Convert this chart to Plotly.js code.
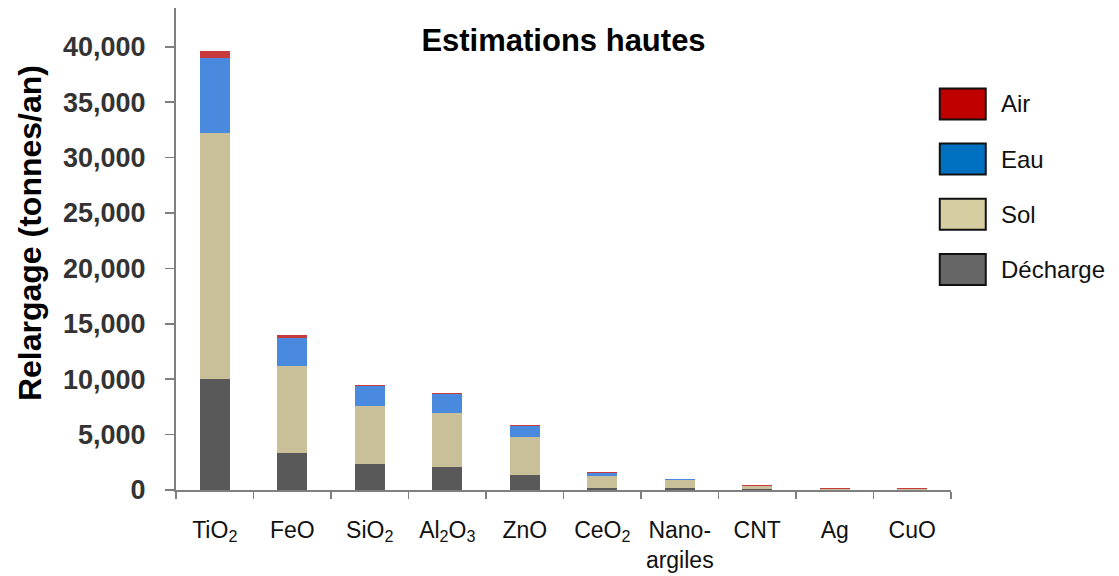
<!DOCTYPE html>
<html>
<head>
<meta charset="utf-8">
<script src="https://cdn.plot.ly/plotly-3.0.1.min.js"></script>
<style>
html,body{margin:0;padding:0;background:#fff;}
#chart{width:1119px;height:576px;}
</style>
</head>
<body>
<div id="chart"></div>
<script>
// ---- data ----
const categories = ['TiO<sub>2</sub>','FeO','SiO<sub>2</sub>','Al<sub>2</sub>O<sub>3</sub>','ZnO','CeO<sub>2</sub>','Nano-<br>argiles','CNT','Ag','CuO'];
const decharge = [10000, 3300, 2350, 2050, 1350, 200, 150, 50, 30, 30];
const sol      = [22200, 7900, 5250, 4900, 3400, 1050, 750, 300, 50, 50];
const eau      = [6800, 2500, 1800, 1700, 1000, 300, 80, 0, 20, 20];
const air      = [600, 250, 100, 100, 100, 50, 40, 100, 60, 60];
const seriesNames = ['Air','Eau','Sol','Décharge'];
const yTickVals = [0,5000,10000,15000,20000,25000,30000,35000,40000];

// ---- styles ----
const barColors = {'Décharge':'#595959','Sol':'#c9c09a','Eau':'#4a8ade','Air':'#c93a3c'};
const legendColors = {'Air':'#c00000','Eau':'#0070c0','Sol':'#d6cda0','Décharge':'#666666'};
const FONT = 'Arial, "Liberation Sans", sans-serif';

const seriesData = {'Décharge':decharge,'Sol':sol,'Eau':eau,'Air':air};
const order = ['Décharge','Sol','Eau','Air'];
const traces = order.map(n => ({
  type:'bar', name:n, x:categories, y:seriesData[n],
  marker:{color:barColors[n], line:{width:0}},
  hoverinfo:'x+y+name'
}));

// custom legend (boxes + labels)
const legTop = 0.801, legStep = 0.1145;
const shapes = [], annotations = [];
seriesNames.forEach((n,i) => {
  const yc = legTop - i*legStep;
  shapes.push({type:'rect', xref:'paper', yref:'paper',
    x0:0.9855, x1:0.9855 + 46/775, y0:yc - 15.5/482, y1:yc + 15.5/482,
    fillcolor:legendColors[n], line:{color:'#111', width:2}});
  annotations.push({xref:'paper', yref:'paper', x:1.062, y:yc,
    xanchor:'left', yanchor:'middle', text:n, showarrow:false,
    font:{family:FONT, size:24, color:'#111'}});
});
annotations.push({xref:'paper', yref:'paper', x:-146/775, y:0.533,
  xanchor:'center', yanchor:'middle', textangle:-90, showarrow:false,
  text:'<b>Relargage (tonnes/an)</b>', font:{family:FONT, size:32, color:'#000'}});

const layout = {
  width:1119, height:576,
  margin:{l:176, r:168, t:8, b:86},
  paper_bgcolor:'#fff', plot_bgcolor:'#fff',
  barmode:'stack', bargap:0.61,
  showlegend:false,
  title:{text:'<b>Estimations hautes</b>', x:0.5, xref:'paper', y:1-40/576, yref:'container',
    xanchor:'center', yanchor:'middle', font:{family:FONT, size:31, color:'#000'}},
  xaxis:{type:'category', showline:true, linecolor:'#7f7f7f', linewidth:2,
    ticks:'outside', tickson:'boundaries', ticklen:7, tickwidth:1.5, tickcolor:'#7f7f7f',
    showgrid:false, zeroline:false, ticklabelstandoff:18,
    tickfont:{family:FONT, size:23, color:'#111'}},
  yaxis:{range:[0,43500], showline:true, linecolor:'#7f7f7f', linewidth:2,
    ticks:'outside', ticklen:9, tickwidth:1.5, tickcolor:'#7f7f7f',
    tickvals:yTickVals, tickformat:',d', showgrid:false, zeroline:false,
    ticklabelstandoff:14,
    tickfont:{family:FONT, size:27, color:'#333', weight:'bold'}},
  shapes:shapes, annotations:annotations
};

Plotly.newPlot('chart', traces, layout, {displayModeBar:false, staticPlot:true});
</script>
</body>
</html>
